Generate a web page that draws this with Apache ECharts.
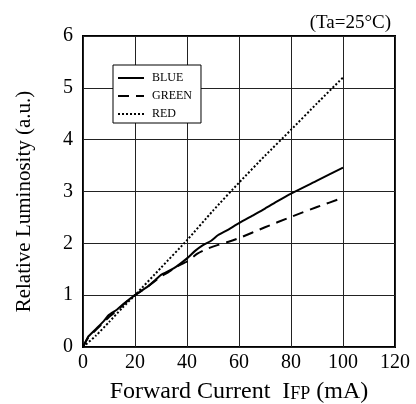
<!DOCTYPE html>
<html><head><meta charset="utf-8">
<script src="https://cdn.jsdelivr.net/npm/echarts@6/dist/echarts.min.js"></script>
<style>html,body{margin:0;padding:0;background:#fff}#c{width:416px;height:404px}</style>
</head><body><div id="c"></div>
<script>
const blue = [[0,0],[1,0.1],[2,0.2],[3,0.25],[5,0.35],[8,0.5],[10,0.62],[13,0.72],[16,0.85],[20,1.0],[25,1.17],[28,1.3],[30,1.39],[35,1.52],[40,1.71],[43,1.85],[46,1.96],[49,2.04],[52,2.16],[55,2.24],[60,2.39],[65,2.53],[70,2.67],[75,2.82],[80,2.96],[90,3.21],[100,3.46]];
const green = [[0,0],[2,0.18],[5,0.33],[10,0.58],[13,0.7],[16,0.84],[20,1.0],[25,1.17],[30,1.36],[33,1.45],[36,1.55],[40,1.65],[44,1.8],[48,1.9],[52,1.97],[56,2.03],[60,2.1],[70,2.31],[80,2.51],[90,2.7],[100,2.88]];
const red = [[0,0],[5,0.22],[10,0.48],[15,0.75],[20,1.0],[30,1.53],[40,2.06],[50,2.63],[60,3.17],[70,3.69],[80,4.19],[90,4.7],[100,5.2]];
const xTicks = {min:0, max:120, step:20};
const yTicks = {min:0, max:6, step:1};
const font = 'Liberation Serif';
const chart = echarts.init(document.getElementById('c'));
chart.setOption({
  animation:false,
  backgroundColor:'#fff',
  title:{text:'(Ta=25°C)', right:20, top:9, textStyle:{fontFamily:font, fontSize:19, fontWeight:'normal', color:'#000'}},
  grid:{left:83, right:21, top:36, bottom:57, containLabel:false, outerBoundsMode:'none', show:true, borderColor:'#000', borderWidth:2, backgroundColor:'transparent'},
  legend:{
    orient:'vertical', left:113, top:65,
    backgroundColor:'#fff', borderColor:'#000', borderWidth:1,
    padding:[7,9,3,4], itemGap:6, itemWidth:26, itemHeight:14,
    itemStyle:{opacity:0},
    textStyle:{fontFamily:font, fontSize:12, color:'#000', padding:[0,0,0,3]},
    data:['BLUE','GREEN','RED']
  },
  xAxis:{type:'value', min:xTicks.min, max:xTicks.max, interval:xTicks.step,
    name:'{a|Forward Current  I}{b|FP}{a| (mA)}', nameLocation:'middle', nameGap:33,
    nameTextStyle:{rich:{a:{fontFamily:font, fontSize:24, color:'#000'}, b:{fontFamily:font, fontSize:18, color:'#000', padding:[4,0,0,0]}}},
    axisLine:{show:false}, axisTick:{show:false},
    axisLabel:{fontFamily:font, fontSize:20, color:'#000', margin:6},
    splitLine:{show:true, lineStyle:{color:'#222', width:1}}},
  yAxis:{type:'value', min:yTicks.min, max:yTicks.max, interval:yTicks.step,
    name:'Relative Luminosity (a.u.)', nameLocation:'middle', nameGap:48, nameRotate:90,
    nameTextStyle:{fontFamily:font, fontSize:21, color:'#000', padding:[0,20,0,0]},
    axisLine:{show:false}, axisTick:{show:false},
    axisLabel:{fontFamily:font, fontSize:20, color:'#000', margin:10},
    splitLine:{show:true, lineStyle:{color:'#222', width:1}}},
  series:[
    {name:'BLUE', type:'line', data:blue, symbol:'none', smooth:0.2, lineStyle:{color:'#000', width:2, type:'solid'}, itemStyle:{color:'#000'}},
    {name:'GREEN', type:'line', data:green, symbol:'none', smooth:0.2, lineStyle:{color:'#000', width:2, type:[11,7]}, itemStyle:{color:'#000'}},
    {name:'RED', type:'line', data:red, symbol:'none', smooth:0.2, lineStyle:{color:'#000', width:2, type:[2,2]}, itemStyle:{color:'#000'}}
  ]
});
</script></body></html>
